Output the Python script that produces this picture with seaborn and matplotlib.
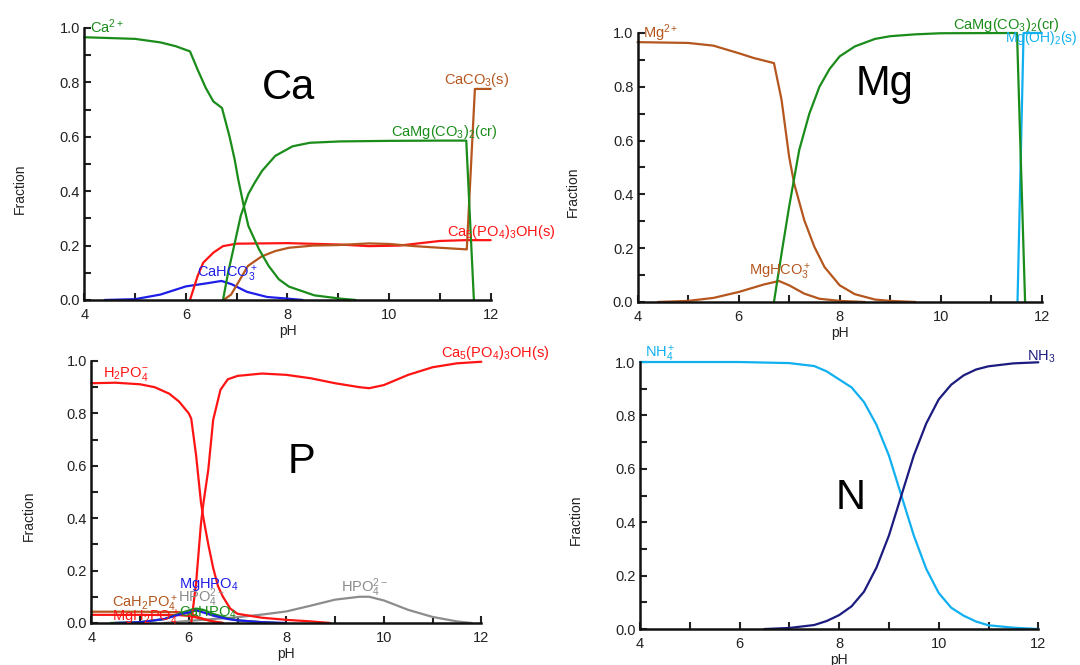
import numpy as np
import pandas as pd
import matplotlib
matplotlib.use('Agg')
import matplotlib.pyplot as plt
from matplotlib.ticker import MultipleLocator, FormatStrFormatter
import seaborn as sns

# General style
sns.set_style('ticks')
plt.rcParams['font.family'] = ['Liberation Sans', 'DejaVu Sans']
plt.rcParams['mathtext.fontset'] = 'custom'
plt.rcParams['mathtext.rm'] = 'Liberation Sans'
plt.rcParams['mathtext.it'] = 'Liberation Sans:italic'
plt.rcParams['mathtext.bf'] = 'Liberation Sans:bold'
plt.rcParams['mathtext.default'] = 'regular'

GREEN = '#1a8c1a'
RED = '#ff1414'
BROWN = '#b4561e'
BLUE = '#1e1ee8'
GRAY = '#8c8c8c'
CYAN = '#10b0f0'
NAVY = '#1c1c80'

# =============================================================================
# DATA
# =============================================================================

# --- Ca panel ---
ca_ion_ph = [4.0, 4.5, 5.0, 5.5, 5.8, 6.08, 6.23, 6.39, 6.54, 6.71, 6.86, 6.96, 7.03,
             7.14, 7.23, 7.44, 7.63, 7.83, 8.03, 8.53, 9.04, 9.34]
ca_ion_fr = [0.966, 0.963, 0.96, 0.947, 0.933, 0.914, 0.847, 0.78, 0.73, 0.706, 0.60,
             0.516, 0.443, 0.345, 0.272, 0.186, 0.125, 0.076, 0.049, 0.017, 0.005, 0.0]

ca_dol_ph = [6.73, 6.83, 6.95, 7.08, 7.23, 7.35, 7.5, 7.76, 8.1, 8.44, 9.04, 10.0, 11.0,
             11.52, 11.67]
ca_dol_fr = [0.0, 0.1, 0.2, 0.31, 0.39, 0.43, 0.475, 0.53, 0.565, 0.578, 0.583, 0.585,
             0.586, 0.586, 0.0]

ca_calc_ph = [6.74, 6.89, 7.01, 7.22, 7.49, 7.76, 8.03, 8.5, 9.0, 9.6, 10.0, 10.5, 11.0,
              11.53, 11.69, 12.0]
ca_calc_fr = [0.0, 0.02, 0.058, 0.125, 0.16, 0.18, 0.192, 0.2, 0.202, 0.208, 0.206,
              0.198, 0.192, 0.186, 0.776, 0.776]

ca_hap_ph = [6.08, 6.23, 6.34, 6.54, 6.73, 7.0, 8.0, 9.0, 9.6, 10.2, 11.0, 11.5, 12.0]
ca_hap_fr = [0.0, 0.088, 0.137, 0.174, 0.198, 0.207, 0.209, 0.204, 0.198, 0.2, 0.217,
             0.22, 0.22]

ca_hco3_ph = [4.4, 5.0, 5.5, 6.0, 6.4, 6.7, 6.9, 7.2, 7.6, 8.0, 8.3]
ca_hco3_fr = [0.0, 0.003, 0.02, 0.05, 0.061, 0.07, 0.058, 0.03, 0.011, 0.005, 0.0]

# --- Mg panel ---
mg_ion_ph = [4.0, 5.0, 5.5, 6.0, 6.3, 6.7, 6.85, 7.0, 7.1, 7.3, 7.5, 7.7, 8.0, 8.3,
             8.7, 9.0, 9.5]
mg_ion_fr = [0.966, 0.963, 0.953, 0.925, 0.907, 0.888, 0.752, 0.54, 0.44, 0.304, 0.205,
             0.13, 0.062, 0.029, 0.009, 0.004, 0.0]

mg_hco3_ph = [4.4, 5.0, 5.5, 6.0, 6.5, 6.8, 7.0, 7.3, 7.6, 8.0, 8.5]
mg_hco3_fr = [0.0, 0.004, 0.015, 0.037, 0.065, 0.078, 0.062, 0.031, 0.012, 0.004, 0.0]

mg_dol_ph = [6.7, 6.85, 7.0, 7.2, 7.4, 7.6, 7.8, 8.0, 8.3, 8.7, 9.0, 9.5, 10.0, 11.51,
             11.67]
mg_dol_fr = [0.0, 0.18, 0.354, 0.565, 0.70, 0.80, 0.866, 0.913, 0.95, 0.978, 0.988,
             0.995, 0.999, 1.0, 0.0]

mg_oh_ph = [11.52, 11.64, 12.0]
mg_oh_fr = [0.0, 1.0, 1.0]

# --- P panel ---
p_h2po4_ph = [4.0, 4.5, 5.0, 5.3, 5.6, 5.8, 6.0, 6.05, 6.15, 6.25, 6.3, 6.4, 6.5, 6.6,
              6.7, 6.85, 7.0, 7.5, 8.0, 8.5, 8.9]
p_h2po4_fr = [0.915, 0.917, 0.911, 0.90, 0.875, 0.845, 0.80, 0.78, 0.64, 0.46, 0.40,
              0.30, 0.21, 0.14, 0.10, 0.055, 0.035, 0.02, 0.012, 0.006, 0.0]

p_hap_ph = [6.05, 6.15, 6.25, 6.3, 6.4, 6.5, 6.65, 6.8, 7.0, 7.5, 8.0, 8.5, 9.0, 9.5,
            9.7, 10.0, 10.5, 11.0, 11.5, 12.0]
p_hap_fr = [0.0, 0.152, 0.38, 0.457, 0.585, 0.775, 0.89, 0.93, 0.943, 0.952, 0.947,
            0.934, 0.915, 0.9, 0.896, 0.908, 0.947, 0.976, 0.991, 0.997]

p_hpo4_ph = [5.5, 6.0, 6.5, 7.0, 7.5, 8.0, 8.5, 9.0, 9.5, 9.7, 10.0, 10.5, 11.0, 11.5,
             11.8]
p_hpo4_fr = [0.0, 0.008, 0.015, 0.022, 0.032, 0.044, 0.066, 0.089, 0.1, 0.1, 0.086,
             0.05, 0.023, 0.006, 0.0]

p_mghpo4_ph = [4.5, 5.0, 5.5, 5.8, 6.0, 6.15, 6.3, 6.5, 6.8, 7.0, 7.5, 8.0]
p_mghpo4_fr = [0.0, 0.003, 0.015, 0.032, 0.04, 0.048, 0.04, 0.028, 0.015, 0.01, 0.003, 0.0]

p_cahpo4_ph = [4.4, 5.0, 5.5, 5.8, 6.0, 6.15, 6.3, 6.5, 6.8, 7.0, 7.5, 7.8]
p_cahpo4_fr = [0.0, 0.003, 0.015, 0.035, 0.048, 0.055, 0.05, 0.035, 0.018, 0.01, 0.003, 0.0]

p_cah2po4_ph = [4.0, 5.0, 5.8, 6.0, 6.1, 6.3, 6.5, 6.7]
p_cah2po4_fr = [0.043, 0.043, 0.041, 0.037, 0.03, 0.015, 0.005, 0.0]

p_mgh2po4_ph = [4.0, 5.0, 5.8, 6.0, 6.3, 6.5, 6.7]
p_mgh2po4_fr = [0.031, 0.031, 0.03, 0.027, 0.015, 0.006, 0.0]

# --- N panel ---
n_nh4_ph = [4.0, 6.0, 6.5, 7.0, 7.5, 7.75, 8.0, 8.25, 8.5, 8.75, 9.0, 9.25, 9.5, 9.75,
            10.0, 10.25, 10.5, 10.75, 11.0, 11.5, 12.0]
n_nh4_fr = [1.0, 1.0, 0.998, 0.996, 0.985, 0.965, 0.935, 0.905, 0.85, 0.765, 0.65, 0.5,
            0.35, 0.225, 0.135, 0.08, 0.05, 0.028, 0.014, 0.005, 0.0]

n_nh3_ph = [6.5, 7.0, 7.5, 7.75, 8.0, 8.25, 8.5, 8.75, 9.0, 9.25, 9.5, 9.75, 10.0, 10.25,
            10.5, 10.75, 11.0, 11.5, 12.0]
n_nh3_fr = [0.0, 0.004, 0.015, 0.03, 0.052, 0.085, 0.14, 0.23, 0.35, 0.5, 0.65, 0.77,
            0.86, 0.915, 0.95, 0.972, 0.984, 0.995, 0.999]


# =============================================================================
# PLOT HELPERS
# =============================================================================

def draw_panel(ax, series):
    frames = []
    palette = {}
    for name, ph, fr, color in series:
        frames.append(pd.DataFrame({'pH': ph, 'Fraction': fr, 'species': name}))
        palette[name] = color
    df = pd.concat(frames, ignore_index=True)
    sns.lineplot(data=df, x='pH', y='Fraction', hue='species', palette=palette,
                 hue_order=list(palette), estimator=None, sort=False, legend=False,
                 linewidth=1.6, clip_on=False, ax=ax)

    ax.set_xlim(4, 12)
    ax.set_ylim(0, 1)
    ax.xaxis.set_major_locator(MultipleLocator(2))
    ax.xaxis.set_minor_locator(MultipleLocator(1))
    ax.yaxis.set_major_locator(MultipleLocator(0.2))
    ax.yaxis.set_minor_locator(MultipleLocator(0.1))
    ax.yaxis.set_major_formatter(FormatStrFormatter('%.1f'))
    ax.tick_params(which='both', direction='in', length=5, width=1.5, colors='#222222',
                   labelsize=10.5)
    ax.tick_params(axis='x', pad=6)
    ax.tick_params(axis='y', pad=3)
    sns.despine(ax=ax)
    for s in ['left', 'bottom']:
        ax.spines[s].set_linewidth(1.8)
        ax.spines[s].set_color('#111111')
    ax.set_xlabel('pH', fontsize=10, color='#222222', labelpad=1)
    ax.set_ylabel('Fraction', fontsize=10, color='#222222')
    ax.yaxis.set_label_coords(-0.142, 0.41)


def label(ax, x, y, txt, color, size=10.5, ha='left'):
    ax.text(x, y, txt, color=color, fontsize=size, ha=ha, va='center', clip_on=False)


fig = plt.figure(figsize=(10.8, 6.65), dpi=100)
ax_ca = fig.add_axes([0.0781, 0.5489, 0.3762, 0.4090])
ax_mg = fig.add_axes([0.5903, 0.5459, 0.3743, 0.4045])
ax_p = fig.add_axes([0.0845, 0.0632, 0.3612, 0.3940])
ax_n = fig.add_axes([0.5925, 0.0541, 0.3689, 0.4015])

# Ca
draw_panel(ax_ca, [
    ('CaHCO3+', ca_hco3_ph, ca_hco3_fr, BLUE),
    ('Ca5(PO4)3OH', ca_hap_ph, ca_hap_fr, RED),
    ('CaCO3', ca_calc_ph, ca_calc_fr, BROWN),
    ('CaMg(CO3)2', ca_dol_ph, ca_dol_fr, GREEN),
    ('Ca2+', ca_ion_ph, ca_ion_fr, GREEN),
])
label(ax_ca, 4.12, 1.004, 'Ca$^{2+}$', GREEN)
label(ax_ca, 11.08, 0.81, 'CaCO$_3$(s)', BROWN)
label(ax_ca, 10.03, 0.618, 'CaMg(CO$_3$)$_2$(cr)', GREEN)
label(ax_ca, 11.15, 0.25, 'Ca$_5$(PO$_4$)$_3$OH(s)', RED)
label(ax_ca, 6.22, 0.096, 'CaHCO$_3^+$', BLUE)
label(ax_ca, 8.01, 0.78, 'Ca', 'black', size=30, ha='center')

# Mg
draw_panel(ax_mg, [
    ('MgHCO3+', mg_hco3_ph, mg_hco3_fr, BROWN),
    ('Mg2+', mg_ion_ph, mg_ion_fr, BROWN),
    ('Mg(OH)2', mg_oh_ph, mg_oh_fr, CYAN),
    ('CaMg(CO3)2', mg_dol_ph, mg_dol_fr, GREEN),
])
label(ax_mg, 4.1, 1.0, 'Mg$^{2+}$', BROWN)
label(ax_mg, 10.25, 1.03, 'CaMg(CO$_3$)$_2$(cr)', GREEN)
label(ax_mg, 11.27, 0.98, 'Mg(OH)$_2$(s)', CYAN, size=10)
label(ax_mg, 6.21, 0.11, 'MgHCO$_3^+$', BROWN)
label(ax_mg, 8.89, 0.81, 'Mg', 'black', size=30, ha='center')

# P
draw_panel(ax_p, [
    ('HPO4 2-', p_hpo4_ph, p_hpo4_fr, GRAY),
    ('CaH2PO4+', p_cah2po4_ph, p_cah2po4_fr, BROWN),
    ('MgH2PO4+', p_mgh2po4_ph, p_mgh2po4_fr, RED),
    ('CaHPO4', p_cahpo4_ph, p_cahpo4_fr, GREEN),
    ('MgHPO4', p_mghpo4_ph, p_mghpo4_fr, BLUE),
    ('H2PO4-', p_h2po4_ph, p_h2po4_fr, RED),
    ('Ca5(PO4)3OH', p_hap_ph, p_hap_fr, RED),
])
label(ax_p, 4.25, 0.95, 'H$_2$PO$_4^{-}$', RED)
label(ax_p, 11.17, 1.03, 'Ca$_5$(PO$_4$)$_3$OH(s)', RED)
label(ax_p, 8.32, 0.615, 'P', 'black', size=30, ha='center')
label(ax_p, 5.8, 0.145, 'MgHPO$_4$', BLUE)
label(ax_p, 4.42, 0.072, 'CaH$_2$PO$_4^+$', BROWN)
label(ax_p, 5.77, 0.095, 'HPO$_4^{2-}$', GRAY)
label(ax_p, 5.8, 0.038, 'CaHPO$_4$', GREEN)
label(ax_p, 4.42, 0.02, 'MgH$_2$PO$_4^+$', RED)
label(ax_p, 9.12, 0.134, 'HPO$_4^{2-}$', GRAY)

# N
draw_panel(ax_n, [
    ('NH4+', n_nh4_ph, n_nh4_fr, CYAN),
    ('NH3', n_nh3_ph, n_nh3_fr, NAVY),
])
label(ax_n, 4.1, 1.03, 'NH$_4^+$', CYAN)
label(ax_n, 11.78, 1.02, 'NH$_3$', NAVY)
label(ax_n, 8.23, 0.49, 'N', 'black', size=30, ha='center')

fig.savefig('out.png', dpi=100)
